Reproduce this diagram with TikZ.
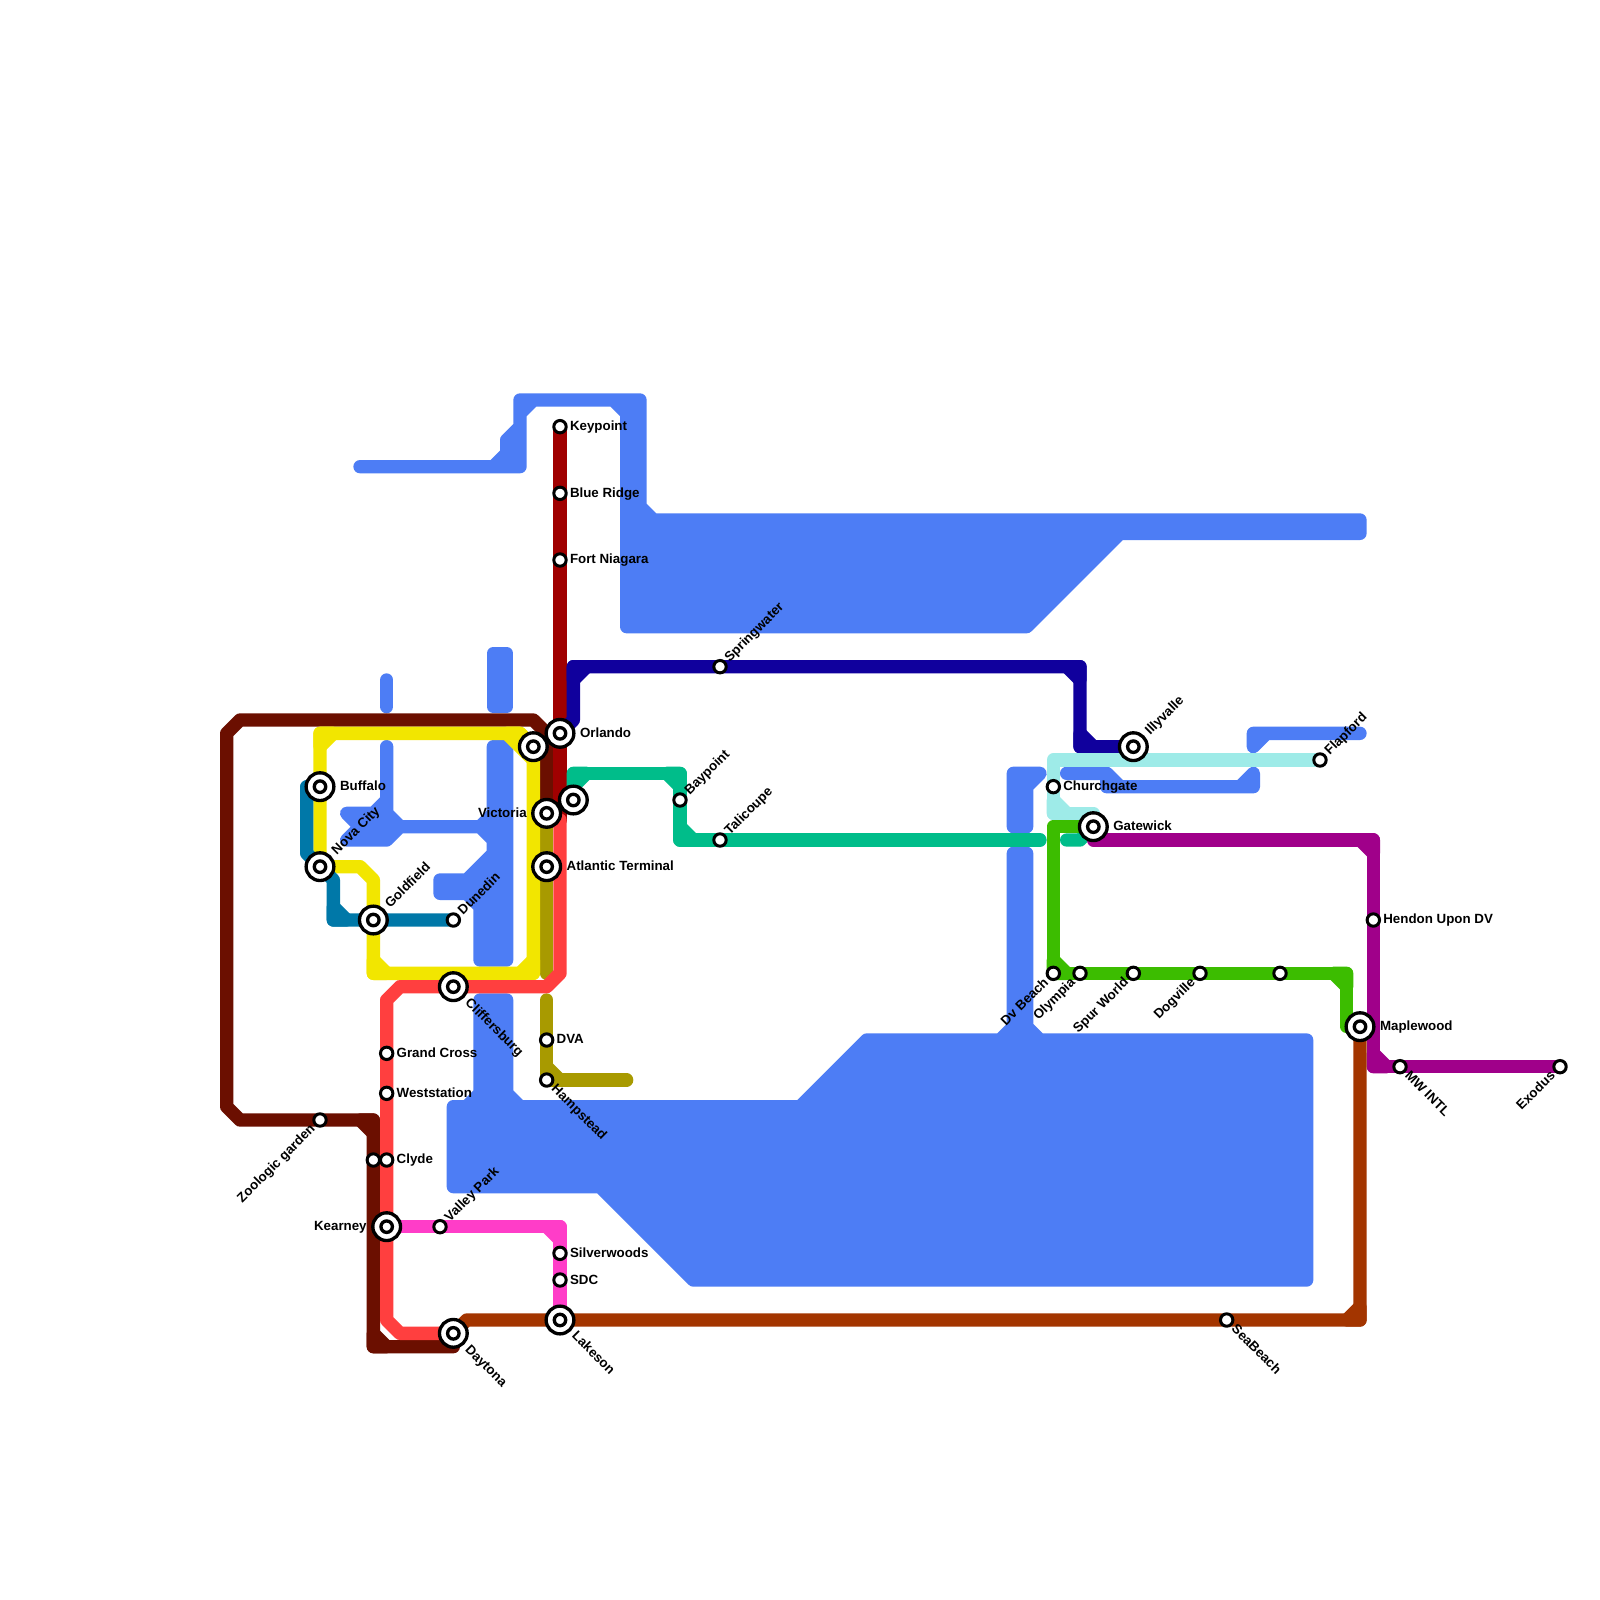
\documentclass[tikz,border=0pt]{standalone}
\usepackage{fontspec}
\setmainfont{Liberation Sans}
\usetikzlibrary{backgrounds}
\definecolor{cBlue}{RGB}{77,125,245}
\definecolor{cMaroon}{RGB}{107,15,0}
\definecolor{cYellow}{RGB}{242,230,0}
\definecolor{cSea}{RGB}{0,120,168}
\definecolor{cRed}{RGB}{255,63,63}
\definecolor{cCrimson}{RGB}{160,0,0}
\definecolor{cNavy}{RGB}{16,0,157}
\definecolor{cJade}{RGB}{0,189,138}
\definecolor{cIce}{RGB}{158,235,232}
\definecolor{cGreen}{RGB}{60,189,0}
\definecolor{cPurple}{RGB}{160,0,138}
\definecolor{cRust}{RGB}{163,53,0}
\definecolor{cPink}{RGB}{255,61,200}
\definecolor{cOlive}{RGB}{168,154,0}
\tikzset{
  ln/.style={draw=#1,line width=0.4cm,line cap=round,line join=round},
  crn/.style={draw=#1,fill=#1,line width=0.4cm,line cap=round,line join=round},
  stn/.style={circle,draw=black,fill=white,line width=0.09cm,minimum size=0.372cm,inner sep=0pt,outer sep=0pt},
  bigstn/.style={circle,draw=black,fill=white,line width=0.1cm,minimum size=0.832cm,inner sep=0pt,outer sep=0pt,
    path picture={\draw[black,line width=0.1cm] (path picture bounding box.center) circle (0.172cm);}},
  lab/.style={font=\fontsize{11.38}{13}\selectfont\bfseries,inner sep=0pt,outer sep=0pt,text height=6.8pt,text depth=0pt},
  lr/.style={lab,anchor=west,xshift=0.3cm},
  lrB/.style={lab,anchor=west,xshift=0.6cm},
  llB/.style={lab,anchor=east,xshift=-0.6cm},
  ur/.style={lab,anchor=west,rotate=45,xshift=0.3cm},
  urB/.style={lab,anchor=west,rotate=45,xshift=0.6cm},
  dr/.style={lab,anchor=west,rotate=-45,xshift=0.3cm},
  drB/.style={lab,anchor=west,rotate=-45,xshift=0.6cm},
  dl/.style={lab,anchor=east,rotate=45,xshift=-0.3cm}
}
\begin{document}
\begin{tikzpicture}[x=0.4cm,y=-0.4cm]
\useasboundingbox (0,0) rectangle (120,120);
% stations
\foreach \n/\p in {Keypoint/{42,32},BlueRidge/{42,37},FortNiagara/{42,42},Dunedin/{34,69},GrandCross/{29,79},
  Weststation/{29,82},Clyde/{29,87},ClydeWest/{28,87},Zoologic/{24,84},ValleyPark/{33,92},Silverwoods/{42,94},
  SDC/{42,96},DVA/{41,78},Hampstead/{41,81},Springwater/{54,50},Baypoint/{51,60},Talicoupe/{54,63},
  Flapford/{99,57},Churchgate/{79,59},DvBeach/{79,73},Olympia/{81,73},SpurWorld/{85,73},Dogville/{90,73},
  GreenEast/{96,73},Hendon/{103,69},MWIntl/{105,80},Exodus/{117,80},SeaBeach/{92,99}}
  {\node[stn] (\n) at (\p) {};}
\foreach \n/\p in {Orlando/{42,55},YellowTop/{40,56},Buffalo/{24,59},NovaCity/{24,65},Goldfield/{28,69},
  Victoria/{41,61},Atlantic/{41,65},JadeEnd/{43,60},Cliffersburg/{34,74},Kearney/{29,92},Lakeson/{42,99},
  Daytona/{34,100},Illyvalle/{85,56},Gatewick/{82,62},Maplewood/{102,77}}
  {\node[bigstn] (\n) at (\p) {};}
% labels
\node[lr] (tKeypoint) at (Keypoint.center) {Keypoint};
\node[lr] (tBlueRidge) at (BlueRidge.center) {Blue Ridge};
\node[lr] (tFortNiagara) at (FortNiagara.center) {Fort Niagara};
\node[lrB] (tOrlando) at (Orlando.center) {Orlando};
\node[lrB] (tBuffalo) at (Buffalo.center) {Buffalo};
\node[urB] (tNovaCity) at (NovaCity.center) {Nova City};
\node[urB] (tGoldfield) at (Goldfield.center) {Goldfield};
\node[ur] (tDunedin) at (Dunedin.center) {Dunedin};
\node[llB] (tVictoria) at (Victoria.center) {Victoria};
\node[lrB] (tAtlantic) at (Atlantic.center) {Atlantic Terminal};
\node[drB] (tCliffersburg) at (Cliffersburg.center) {Cliffersburg};
\node[lr] (tGrandCross) at (GrandCross.center) {Grand Cross};
\node[lr] (tWeststation) at (Weststation.center) {Weststation};
\node[lr] (tClyde) at (Clyde.center) {Clyde};
\node[llB] (tKearney) at (Kearney.center) {Kearney};
\node[dl] (tZoologic) at (Zoologic.center) {Zoologic garden};
\node[ur] (tValleyPark) at (ValleyPark.center) {Valley Park};
\node[lr] (tSilverwoods) at (Silverwoods.center) {Silverwoods};
\node[lr] (tSDC) at (SDC.center) {SDC};
\node[drB] (tLakeson) at (Lakeson.center) {Lakeson};
\node[drB] (tDaytona) at (Daytona.center) {Daytona};
\node[lr] (tDVA) at (DVA.center) {DVA};
\node[dr] (tHampstead) at (Hampstead.center) {Hampstead};
\node[ur] (tSpringwater) at (Springwater.center) {Springwater};
\node[ur] (tBaypoint) at (Baypoint.center) {Baypoint};
\node[ur] (tTalicoupe) at (Talicoupe.center) {Talicoupe};
\node[urB] (tIllyvalle) at (Illyvalle.center) {Illyvalle};
\node[ur] (tFlapford) at (Flapford.center) {Flapford};
\node[lr] (tChurchgate) at (Churchgate.center) {Churchgate};
\node[lrB] (tGatewick) at (Gatewick.center) {Gatewick};
\node[dl] (tDvBeach) at (DvBeach.center) {Dv Beach};
\node[dl] (tOlympia) at (Olympia.center) {Olympia};
\node[dl] (tSpurWorld) at (SpurWorld.center) {Spur World};
\node[dl] (tDogville) at (Dogville.center) {Dogville};
\node[lr] (tHendon) at (Hendon.center) {Hendon Upon DV};
\node[lrB] (tMaplewood) at (Maplewood.center) {Maplewood};
\node[dr] (tMWIntl) at (MWIntl.center) {MW INTL};
\node[dl] (tExodus) at (Exodus.center) {Exodus};
\node[dr] (tSeaBeach) at (SeaBeach.center) {SeaBeach};
\begin{scope}[on background layer]
\fill[white] (0,0) rectangle (120,120);
% blue masses
\filldraw[crn=cBlue] (27,35)--(37,35)--(38,34)--(38,33)--(39,32)--(39,30)--(48,30)--(48,38)--(49,39)--(102,39)--(102,40)--(84,40)--(77,47)--(47,47)--(47,31)--(46,30)--(40,30)--(39,31)--(39,35)--cycle;
\draw[ln=cBlue] (29,51)--(29,53);
\filldraw[crn=cBlue] (37,49)--(38,49)--(38,53)--(37,53)--cycle;
\filldraw[crn=cBlue] (29,56)--(29,60)--(28,61)--(26,61)--(27,62)--(26,63)--(29,63)--(30,62)--(36,62)--(37,63)--(37,64)--(35,66)--(33,66)--(33,67)--(35,67)--(36,68)--(36,72)--(38,72)--(38,56)--(37,56)--(37,61)--(36,62)--(30,62)--(29,61)--cycle;
\filldraw[crn=cBlue] (36,75)--(38,75)--(38,82)--(39,83)--(60,83)--(65,78)--(75,78)--(76,77)--(76,64)--(77,64)--(77,77)--(78,78)--(98,78)--(98,96)--(52,96)--(45,89)--(34,89)--(34,83)--(35,83)--(36,82)--cycle;
\filldraw[crn=cBlue] (76,58)--(78,58)--(77,59)--(77,62)--(76,62)--cycle;
\filldraw[crn=cBlue] (80,58)--(83,58)--(84,59)--(93,59)--(94,58)--(94,59)--(83,59)--(83,58)--cycle;
\filldraw[crn=cBlue] (94,55)--(102,55)--(95,55)--(94,56)--cycle;
% maroon
\draw[ln=cMaroon] (Victoria.center)--(41,55)--(40,54)--(18,54)--(17,55)--(17,83)--(18,84)--(28,84)--(ClydeWest.center)--(28,101)--(34,101)--(Daytona.center);
\filldraw[crn=cMaroon] (27,84)--(28,84)--(28,85)--cycle (28,100)--(28,101)--(29,101)--cycle;
% olive
\draw[ln=cOlive] (Victoria.center)--(Atlantic.center)--(41,73);
\draw[ln=cOlive] (41,75)--(DVA.center)--(Hampstead.center)--(47,81);
\filldraw[crn=cOlive] (41,80)--(41,81)--(42,81)--cycle;
% yellow
\draw[ln=cYellow] (NovaCity.center)--(Buffalo.center)--(24,55)--(39,55)--(YellowTop.center)--(40,73)--(28,73)--(Goldfield.center)--(28,66)--(27,65)--cycle;
\filldraw[crn=cYellow] (24,56)--(24,55)--(25,55)--cycle (38,55)--(39,55)--(40,56)--(40,57)--cycle (40,72)--(40,73)--(39,73)--cycle (28,72)--(28,73)--(29,73)--cycle;
% sea blue
\draw[ln=cSea] (Buffalo.center)--(23,59)--(23,64)--(NovaCity.center)--(25,66)--(25,69)--(Goldfield.center)--(Dunedin.center);
\filldraw[crn=cSea] (25,68)--(25,69)--(26,69)--cycle;
% crimson and red
\draw[ln=cCrimson] (Keypoint.center)--(BlueRidge.center)--(FortNiagara.center)--(Orlando.center)--(42,61.5);
\draw[ln=cRed] (42,61.5)--(42,73)--(41,74)--(Cliffersburg.center)--(30,74)--(29,75)--(GrandCross.center)--(Weststation.center)--(Clyde.center)--(Kearney.center)--(29,99)--(30,100)--(Daytona.center);
% navy
\draw[ln=cNavy] (Orlando.center)--(43,54)--(43,50)--(Springwater.center)--(81,50)--(81,56)--(Illyvalle.center);
\filldraw[crn=cNavy] (43,51)--(43,50)--(44,50)--cycle (80,50)--(81,50)--(81,51)--cycle (81,55)--(81,56)--(82,56)--cycle;
% jade
\draw[ln=cJade] (JadeEnd.center)--(43,58)--(51,58)--(Baypoint.center)--(51,63)--(Talicoupe.center)--(78,63);
\filldraw[crn=cJade] (43,59)--(43,58)--(44,58)--cycle (50,58)--(51,58)--(51,59)--cycle (51,62)--(51,63)--(52,63)--cycle;
\draw[ln=cJade] (80,63)--(81,63)--(Gatewick.center);
% ice
\draw[ln=cIce] (Flapford.center)--(79,57)--(Churchgate.center)--(79,61)--(82,61)--(Gatewick.center);
\filldraw[crn=cIce] (79,60)--(79,61)--(80,61)--cycle;
% green
\draw[ln=cGreen] (Gatewick.center)--(79,62)--(DvBeach.center)--(GreenEast.center)--(101,73)--(101,77)--(Maplewood.center);
\filldraw[crn=cGreen] (79,72)--(79,73)--(80,73)--cycle (100,73)--(101,73)--(101,74)--cycle;
% purple
\draw[ln=cPurple] (Gatewick.center)--(82,63)--(103,63)--(Hendon.center)--(103,80)--(MWIntl.center)--(Exodus.center);
\filldraw[crn=cPurple] (102,63)--(103,63)--(103,64)--cycle (103,79)--(103,80)--(104,80)--cycle;
% pink
\draw[ln=cPink] (Kearney.center)--(ValleyPark.center)--(42,92)--(Silverwoods.center)--(SDC.center)--(Lakeson.center);
\filldraw[crn=cPink] (41,92)--(42,92)--(42,93)--cycle;
% rust
\draw[ln=cRust] (Daytona.center)--(35,99)--(Lakeson.center)--(SeaBeach.center)--(102,99)--(Maplewood.center);
\filldraw[crn=cRust] (101,99)--(102,99)--(102,98)--cycle;
\end{scope}
\end{tikzpicture}
\end{document}
